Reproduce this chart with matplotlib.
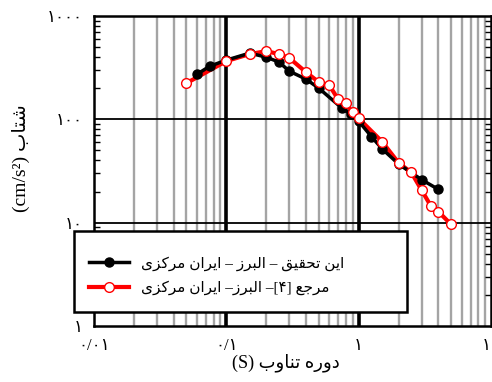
import numpy as np
import matplotlib.pyplot as plt
from matplotlib.patches import Rectangle
from matplotlib.ticker import FixedLocator, NullFormatter, LogLocator

# periods (s) and spectral acceleration (cm/s2)
t_this = [0.06, 0.075, 0.1, 0.15, 0.2, 0.25, 0.3, 0.4, 0.5, 0.75, 0.87, 1.0, 1.25, 1.5, 2.0, 3.0, 4.0]
a_this = [273, 327, 374, 437, 400, 358, 292, 245, 200, 128, 112, 96, 68, 52, 37, 26, 21]

t_ref = [0.05, 0.1, 0.15, 0.2, 0.25, 0.3, 0.4, 0.5, 0.6, 0.7, 0.8, 0.9, 1.0,
         1.5, 2.0, 2.5, 3.0, 3.5, 4.0, 5.0]
a_ref = [224, 366, 428, 457, 428, 391, 286, 229, 214, 156, 143, 117, 102,
         61, 38, 30.6, 20.5, 14.6, 12.8, 9.6]

x_ticks = [0.01, 0.1, 1, 10]
x_labels = ['۰/۰۱', '۰/۱', '۱', '۱۰']
y_ticks = [1, 10, 100, 1000]
y_labels = ['۱', '۱۰', '۱۰۰', '۱۰۰۰']

lbl_this = 'این تحقیق – البرز – ایران مرکزی'
lbl_ref = 'مرجع [۴]– البرز– ایران مرکزی'

# matplotlib does no arabic shaping -> presentation forms, visual order
FORMS = {
    'ا': ('\uFE8D', '\uFE8E', None, None),
    'ب': ('\uFE8F', '\uFE90', '\uFE91', '\uFE92'),
    'ت': ('\uFE95', '\uFE96', '\uFE97', '\uFE98'),
    'ج': ('\uFE9D', '\uFE9E', '\uFE9F', '\uFEA0'),
    'ح': ('\uFEA1', '\uFEA2', '\uFEA3', '\uFEA4'),
    'د': ('\uFEA9', '\uFEAA', None, None),
    'ر': ('\uFEAD', '\uFEAE', None, None),
    'ز': ('\uFEAF', '\uFEB0', None, None),
    'ش': ('\uFEB5', '\uFEB6', '\uFEB7', '\uFEB8'),
    'ع': ('\uFEC9', '\uFECA', '\uFECB', '\uFECC'),
    'ق': ('\uFED5', '\uFED6', '\uFED7', '\uFED8'),
    'ک': ('\uFED9', '\uFEDA', '\uFEDB', '\uFEDC'),
    'ل': ('\uFEDD', '\uFEDE', '\uFEDF', '\uFEE0'),
    'م': ('\uFEE1', '\uFEE2', '\uFEE3', '\uFEE4'),
    'ن': ('\uFEE5', '\uFEE6', '\uFEE7', '\uFEE8'),
    'ه': ('\uFEE9', '\uFEEA', '\uFEEB', '\uFEEC'),
    'و': ('\uFEED', '\uFEEE', None, None),
    'ی': ('\uFEEF', '\uFEF0', '\uFEF3', '\uFEF4'),
}


def shape(s):
    out = []
    for i, ch in enumerate(s):
        if ch not in FORMS:
            out.append(ch)
            continue
        f = FORMS[ch]
        prev = s[i - 1] if i > 0 else ''
        nxt = s[i + 1] if i + 1 < len(s) else ''
        jp = prev in FORMS and FORMS[prev][2] is not None
        jn = f[2] is not None and nxt in FORMS
        if jp and jn:
            out.append(f[3])
        elif jp:
            out.append(f[1])
        elif jn:
            out.append(f[2])
        else:
            out.append(f[0])
    vis = ''.join(reversed(out))
    return vis.translate(str.maketrans('()[]', ')(]['))


plt.rcParams['font.family'] = ['Liberation Serif', 'DejaVu Sans']

fig = plt.figure(figsize=(4.92, 3.82), dpi=100)
ax = fig.add_axes([94 / 492, 1 - 326 / 382, 397 / 492, 310 / 382])
ax.set_xscale('log')
ax.set_yscale('log')
ax.set_xlim(0.01, 10)
ax.set_ylim(1, 1000)

# grid: grey minor verticals, black decades
ax.xaxis.set_minor_locator(LogLocator(base=10, subs=np.arange(2, 10), numticks=20))
ax.xaxis.set_minor_formatter(NullFormatter())
for xv in ax.xaxis.get_minorticklocs():
    ax.axvline(xv, color='#a4a4a4', lw=1.7, zorder=1)
for xv in [0.1, 1]:
    ax.axvline(xv, color='black', lw=2.6, zorder=1.5)
for yv in [10, 100]:
    ax.axhline(yv, color='black', lw=1.3, zorder=1.5)

ax.yaxis.set_minor_locator(LogLocator(base=10, subs=np.arange(2, 10), numticks=20))
ax.yaxis.set_minor_formatter(NullFormatter())
ax.xaxis.set_major_locator(FixedLocator(x_ticks))
ax.set_xticklabels(x_labels)
ax.yaxis.set_major_locator(FixedLocator(y_ticks))
ax.set_yticklabels(y_labels)
ax.tick_params(which='both', direction='in', top=True, right=True)
ax.tick_params(axis='y', which='minor', length=4.5, width=1)
ax.tick_params(axis='y', which='major', length=0, pad=8, labelsize=12)
ax.tick_params(axis='x', which='both', length=0, pad=9, labelsize=12)
for sp in ax.spines.values():
    sp.set_linewidth(1.8)
    sp.set_zorder(6)

ax.plot(t_ref, a_ref, color='red', lw=3, zorder=3)
h1, = ax.plot(t_this, a_this, color='black', lw=2.5, marker='o', ms=6.5,
              mfc='black', mec='black', zorder=4)
ax.plot(t_ref, a_ref, ls='none', marker='o', ms=7, mfc='white',
        mec='red', mew=1, zorder=5)
h2, = plt.plot([], [], color='red', lw=3, marker='o', ms=7, mfc='white',
               mec='red', mew=1)

# legend box drawn separately so it can hang over the left spine
box = Rectangle((74 / 492, 1 - 312 / 382), 333 / 492, 81 / 382,
                transform=fig.transFigure, facecolor='white',
                edgecolor='black', lw=1.8, zorder=9, clip_on=False)
ax.add_patch(box)
leg = ax.legend([h1, h2], [shape(lbl_this), shape(lbl_ref)],
                loc='upper left', bbox_to_anchor=(89 / 492, 1 - 256 / 382),
                bbox_transform=fig.transFigure, frameon=False,
                fontsize=11, handlelength=2.6, borderpad=0,
                labelspacing=0.65, handletextpad=0.8, borderaxespad=0)
leg.set_zorder(10)

ax.set_xlabel('(S) ' + shape('دوره تناوب'), fontsize=13)
ax.xaxis.set_label_coords(0.484, -0.09)
ax.set_ylabel('(cm/s²) ' + shape('شتاب'), fontsize=14)
ax.yaxis.set_label_coords(-0.16, 0.54)

fig.savefig('out.png', dpi=100)
